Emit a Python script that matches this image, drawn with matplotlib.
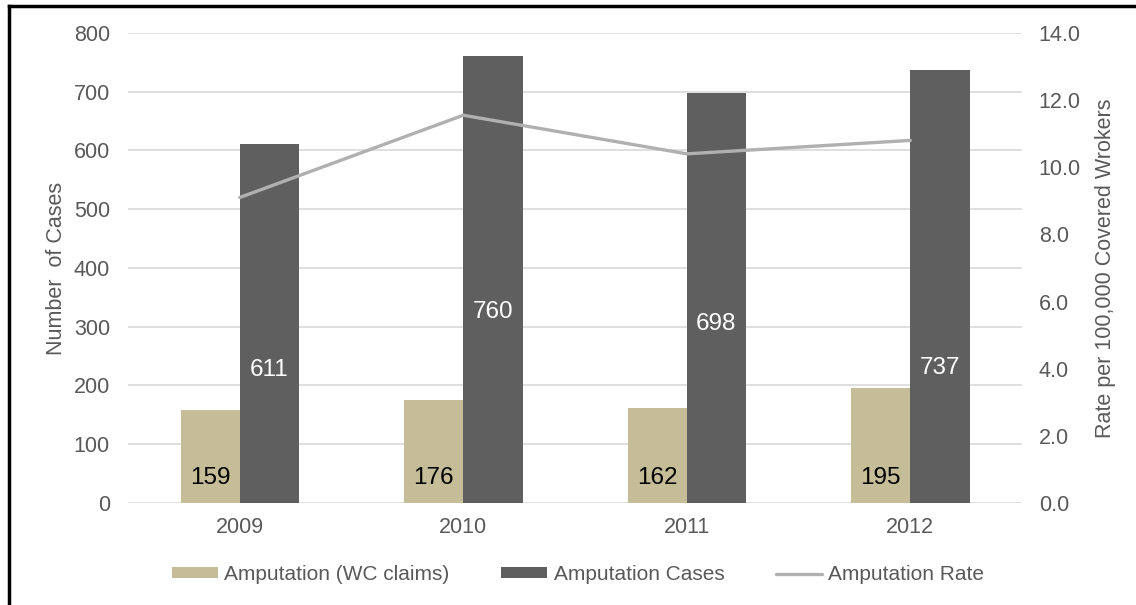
import numpy as np
import matplotlib
matplotlib.use("Agg")
import matplotlib.pyplot as plt
from matplotlib.lines import Line2D

plt.rcParams.update({"font.family": ["Liberation Sans", "DejaVu Sans"]})

years = ["2009", "2010", "2011", "2012"]
wc_claims = [159, 176, 162, 195]
cases = [611, 760, 698, 737]
rate = [9.1, 11.55, 10.4, 10.8]
# label heights (manually placed in the original chart)
case_label_y = [226, 325, 305, 230]
claim_label_y = [42, 42, 42, 42]

TAN, DARK, LINE, TXT, GRID = "#c4bd97", "#5f5f5f", "#b0b0b0", "#595959", "#d9d9d9"

fig = plt.figure(figsize=(11.36, 6.05), dpi=100)
ax = fig.add_axes([0.1127, 0.1686, 0.787, 0.7769])
ax2 = ax.twinx()

x = np.arange(len(years)); w = 0.265
ax.bar(x - w / 2, wc_claims, w, color=TAN, label="Amputation (WC claims)", zorder=2)
ax.bar(x + w / 2, cases, w, color=DARK, label="Amputation Cases", zorder=2)
for xi, v, ly in zip(x, wc_claims, claim_label_y):
    ax.text(xi - w / 2, ly, str(v), ha="center", va="center", fontsize=17.5, color="black", zorder=3)
for xi, v, ly in zip(x, cases, case_label_y):
    ax.text(xi + w / 2, ly, str(v), ha="center", va="center", fontsize=17.5, color="white", zorder=3)

ax2.plot(x, rate, color=LINE, lw=2.4, label="Amputation Rate", solid_capstyle="round")

ax.set_xlim(-0.5, 3.5)
ax.set_ylim(0, 800); ax.set_yticks(range(0, 801, 100))
ax2.set_ylim(0, 14); ax2.set_yticks(np.arange(0, 14.1, 2))
ax2.set_yticklabels([f"{t:.1f}" for t in np.arange(0, 14.1, 2)])
ax.set_xticks(x); ax.set_xticklabels(years)
ax.yaxis.grid(True, color=GRID, lw=1.2, zorder=0); ax.set_axisbelow(True)
for a in (ax, ax2):
    for s in a.spines.values():
        s.set_visible(False)
    a.tick_params(length=0, labelsize=15.5, colors=TXT)
ax.tick_params(axis="y", pad=13)
ax.tick_params(axis="x", pad=10)
ax2.tick_params(axis="y", pad=12)
ax.set_ylabel("Number  of Cases", fontsize=15.5, color=TXT, labelpad=5)
ax2.set_ylabel("Rate per 100,000 Covered Wrokers", fontsize=15.5, color=TXT, labelpad=10)

h1, l1 = ax.get_legend_handles_labels()
h2, l2 = ax2.get_legend_handles_labels()
fig.legend(h1 + h2, l1 + l2, loc="center", bbox_to_anchor=(0.509, 0.05), ncol=3,
           frameon=False, fontsize=15, labelcolor=TXT, handlelength=2.2,
           handleheight=0.45, handletextpad=0.3, columnspacing=2.5)

# screenshot border on left and top
fig.add_artist(Line2D([0.008, 0.008], [0, 0.99], transform=fig.transFigure, color="black", lw=2.5))
fig.add_artist(Line2D([0.008, 1], [0.99, 0.99], transform=fig.transFigure, color="black", lw=2.5))

fig.savefig("out.png", dpi=100)
